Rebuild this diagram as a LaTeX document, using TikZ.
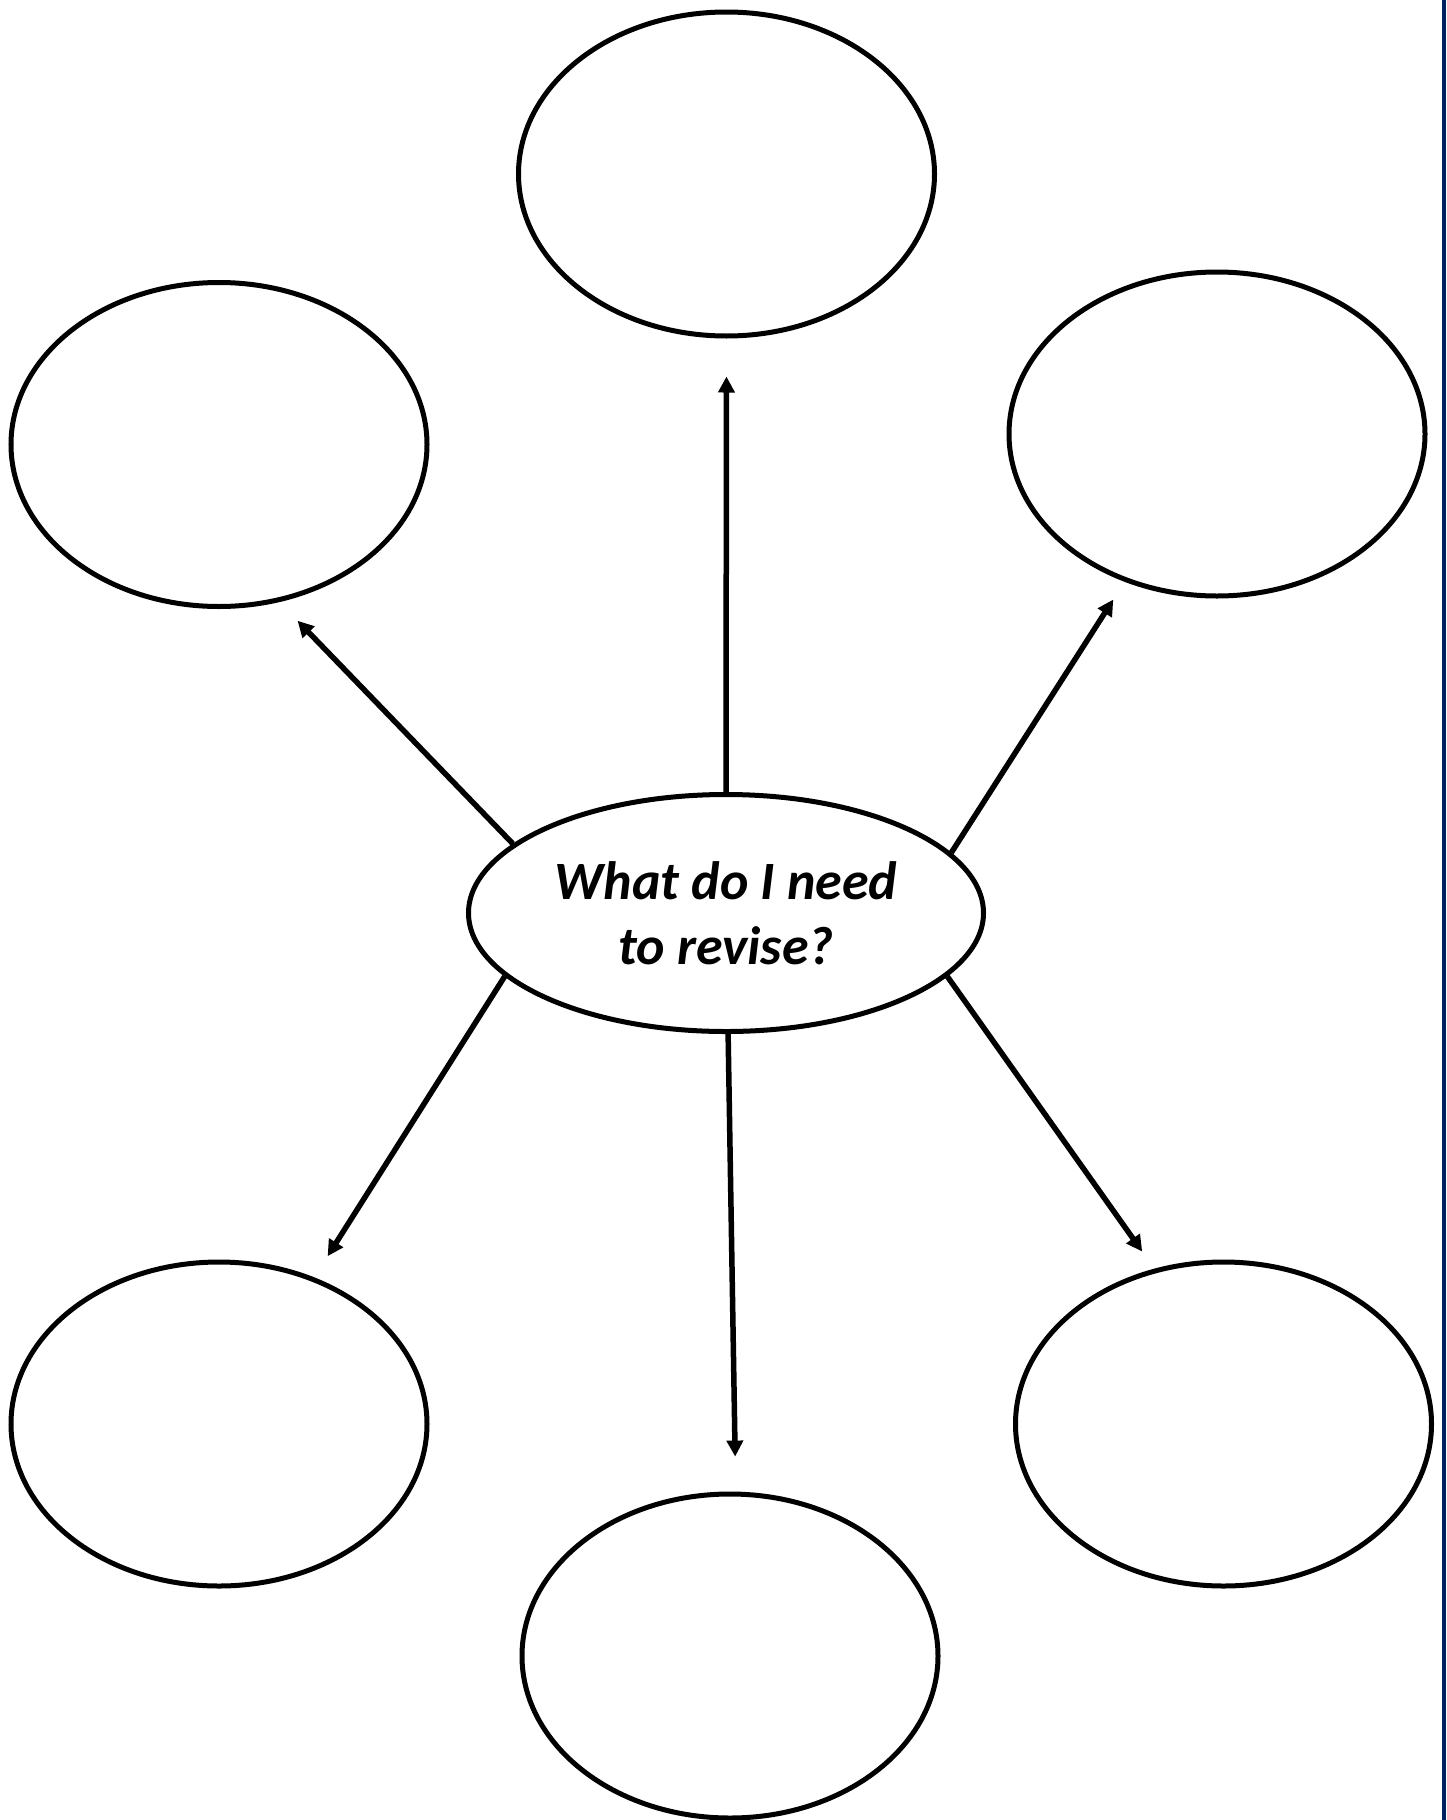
\documentclass[tikz,border=0pt]{standalone}
\usepackage{fontspec}
\setmainfont{Carlito}
\usepackage{xcolor}
\usepackage{tikz}
\usetikzlibrary{shapes.geometric}
\usetikzlibrary{arrows.meta}
\definecolor{edgeblue}{RGB}{0,32,96}

\begin{document}
\begin{tikzpicture}[x=1pt,y=-1pt]%%revise

                \useasboundingbox (0,0) rectangle (1446,1820);
                \tikzstyle{bubble} = [ellipse, draw, line width=5pt, inner sep=0pt, minimum width=416pt, minimum height=324pt]
                \tikzstyle{link}   = [line width=5.5pt, -{Triangle[length=16pt,width=16pt]}]
                \fill [edgeblue] (1442,0) rectangle (1446,1820);
                \node [bubble, minimum width=515pt, minimum height=237pt, align=center,
                       font=\fontsize{54}{65}\selectfont\bfseries\itshape](hub) at (726,913) {What do I need\\to revise?};
                \foreach \name/\x/\y in {top/726.5/174, topleft/219/444.5, topright/1217/434,
                                         botleft/219/1424, botright/1223.5/1424, bot/730/1656}
                {
                        \node [bubble](\name) at (\x,\y) {};
                }
                \foreach \from/\to/\gap in {90/top.270/38, 162.8/topleft.291.9/26, 15.4/topright.238.1/21,
                                            196.6/botleft.57.8/25, 271/bot.88.3/35, 344.4/botright.114.95/21}
                {
                        \draw [link, shorten >=\gap pt] (hub.\from) -- (\to);
                }
\end{tikzpicture}
\end{document}
